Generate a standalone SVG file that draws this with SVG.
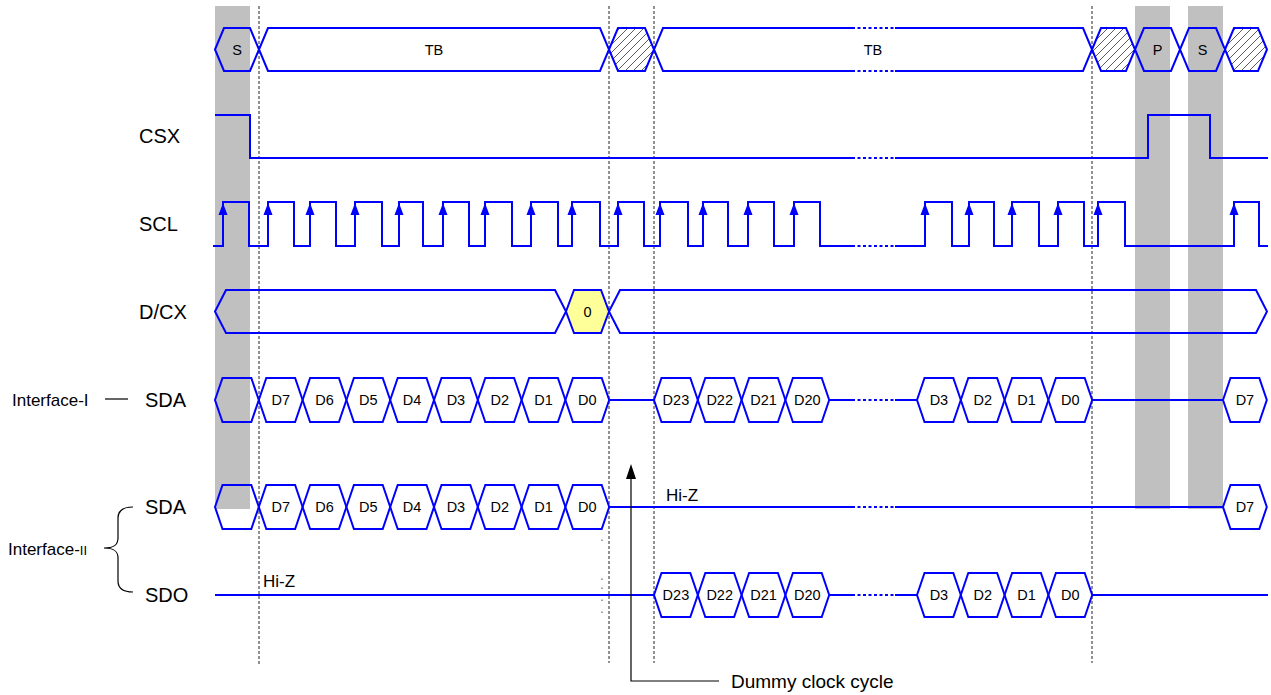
<svg xmlns="http://www.w3.org/2000/svg" xmlns:xlink="http://www.w3.org/1999/xlink" width="1271" height="695" viewBox="0 0 1271 695">
<style>
.bar{fill:#C0C0C0}
.sig{fill:none;stroke:#0000FF;stroke-width:2;stroke-linejoin:miter}
.dot{fill:none;stroke:#0000FF;stroke-width:2;stroke-dasharray:3 2.5}
.hx{fill:none;stroke:#0000FF;stroke-width:2}
.ht{fill:url(#hatch);stroke:#0000FF;stroke-width:2}
.yl{fill:#FFFF99;stroke:#0000FF;stroke-width:2}
.grid{stroke:#222;stroke-width:1;stroke-dasharray:3 2}
.t{font-family:"Liberation Sans",Arial,sans-serif;fill:#000}
.lab{font-size:20px}
.hl{font-size:14.5px;text-anchor:middle;dominant-baseline:central}
.sm{font-size:17px}
.con{fill:none;stroke:#000;stroke-width:1.2}
</style>
<defs>
<pattern id="hatch" patternUnits="userSpaceOnUse" width="8" height="8">
<rect width="8" height="8" fill="#FFFFFF"/>
<path d="M-1,1 L1,-1 M0,8 L8,0 M7,9 L9,7" stroke="#333" stroke-width="0.8"/>
</pattern>
<path id="hex" d="M0,0 L7.5,-22 L36.3,-22 L43.8,0 L36.3,22 L7.5,22 Z" class="hx"/>
<path id="arr" d="M0,0 L-4.5,12 L4.5,12 Z" fill="#0000FF"/>
</defs>
<rect width="1271" height="695" fill="#FFFFFF"/>

<g id="gray-bars">
<rect class="bar" x="215" y="6" width="35" height="503"/>
<rect class="bar" x="1135" y="6" width="35" height="503"/>
<rect class="bar" x="1188" y="6" width="35" height="503"/>
</g>

<g id="grid-lines">
<line class="grid" x1="259" y1="6" x2="259" y2="665"/>
<line class="grid" x1="609" y1="6" x2="609" y2="663"/>
<line class="grid" x1="654" y1="6" x2="654" y2="663"/>
<line class="grid" x1="1092" y1="6" x2="1092" y2="663"/>
<g fill="#444">
<rect x="601.5" y="539.5" width="1" height="1.5"/>
<rect x="601.5" y="578.5" width="1" height="1.5"/>
<rect x="601.5" y="587.5" width="1" height="1.5"/>
<rect x="601.5" y="599.5" width="1" height="1.5"/>
<rect x="601.5" y="611.5" width="1" height="1.5"/>
</g>
</g>

<g id="bus-top">
<path class="hx" d="M215,49.5 L224,28 L250,28 L259,49.5 L250,71 L224,71 Z"/>
<path class="hx" d="M259,49.5 L268,28 L600,28 L609,49.5 L600,71 L268,71 Z"/>
<path class="ht" d="M609,49.5 L618,28 L645,28 L654,49.5 L645,71 L618,71 Z"/>
<path class="sig" d="M852,28 L663,28 L654,49.5 L663,71 L852,71 M895,28 L1083,28 L1092,49.5 L1083,71 L895,71"/>
<path class="dot" d="M852,28 H895 M852,71 H895"/>
<path class="ht" d="M1092,49.5 L1101,28 L1126,28 L1135,49.5 L1126,71 L1101,71 Z"/>
<path class="hx" d="M1135,49.5 L1144,28 L1171,28 L1180,49.5 L1171,71 L1144,71 Z"/>
<path class="hx" d="M1180,49.5 L1189,28 L1216,28 L1225,49.5 L1216,71 L1189,71 Z"/>
<path class="ht" d="M1225,49.5 L1234,28 L1258,28 L1267,49.5 L1258,71 L1234,71 Z"/>
<text class="t hl" x="237" y="49.5">S</text>
<text class="t hl" x="434" y="49.5">TB</text>
<text class="t hl" x="873" y="49.5">TB</text>
<text class="t hl" x="1157.5" y="49.5">P</text>
<text class="t hl" x="1202.5" y="49.5">S</text>
</g>

<g id="csx">
<text class="t lab" x="139" y="143">CSX</text>
<path class="sig" d="M215,115 H250 V158 H852 M895,158 H1148 V115 H1210 V158 H1268"/>
<path class="dot" d="M852,158 H895"/>
</g>

<g id="scl">
<text class="t lab" x="139" y="231">SCL</text>
<path class="sig" d="M213,246 H223 V202 H249 V246 H268 V202 H294 V246 H310 V202 H336 V246 H355 V202 H382 V246 H399 V202 H423 V246 H443 V202 H469 V246 H485 V202 H512 V246 H531 V202 H558 V246 H572 V202 H600 V246 H618 V202 H644 V246 H660 V202 H688 V246 H703 V202 H728 V246 H748 V202 H774 V246 H794 V202 H820 V246 H852 M895,246 H925 V202 H952 V246 H969 V202 H994 V246 H1012 V202 H1039 V246 H1058 V202 H1084 V246 H1098 V202 H1125 V246 H1234 V202 H1259 V246 H1268"/>
<path class="dot" d="M852,246 H895"/>
<use xlink:href="#arr" x="223" y="203"/>
<use xlink:href="#arr" x="268" y="203"/>
<use xlink:href="#arr" x="310" y="203"/>
<use xlink:href="#arr" x="355" y="203"/>
<use xlink:href="#arr" x="399" y="203"/>
<use xlink:href="#arr" x="443" y="203"/>
<use xlink:href="#arr" x="485" y="203"/>
<use xlink:href="#arr" x="531" y="203"/>
<use xlink:href="#arr" x="572" y="203"/>
<use xlink:href="#arr" x="618" y="203"/>
<use xlink:href="#arr" x="660" y="203"/>
<use xlink:href="#arr" x="703" y="203"/>
<use xlink:href="#arr" x="748" y="203"/>
<use xlink:href="#arr" x="794" y="203"/>
<use xlink:href="#arr" x="925" y="203"/>
<use xlink:href="#arr" x="969" y="203"/>
<use xlink:href="#arr" x="1012" y="203"/>
<use xlink:href="#arr" x="1058" y="203"/>
<use xlink:href="#arr" x="1098" y="203"/>
<use xlink:href="#arr" x="1234" y="203"/>
</g>

<g id="dcx">
<text class="t lab" x="139" y="318.5">D/CX</text>
<path class="hx" d="M215,311.5 L226,290 L555,290 L566,311.5 L555,333 L226,333 Z"/>
<path class="yl" d="M566,311.5 L574,290 L601,290 L609,311.5 L601,333 L574,333 Z"/>
<path class="hx" d="M609,311.5 L620,290 L1256,290 L1267,311.5 L1256,333 L620,333 Z"/>
<text class="t hl" x="587.5" y="311.5">0</text>
</g>

<g id="sda-1">
<text class="t sm" x="12" y="406">Interface-I</text>
<text class="t lab" x="145" y="407">SDA</text>
<use xlink:href="#hex" x="215" y="400"/>
<use xlink:href="#hex" x="258.8" y="400"/>
<use xlink:href="#hex" x="302.6" y="400"/>
<use xlink:href="#hex" x="346.4" y="400"/>
<use xlink:href="#hex" x="390.2" y="400"/>
<use xlink:href="#hex" x="434" y="400"/>
<use xlink:href="#hex" x="477.8" y="400"/>
<use xlink:href="#hex" x="521.6" y="400"/>
<use xlink:href="#hex" x="565.4" y="400"/>
<use xlink:href="#hex" x="654" y="400"/>
<use xlink:href="#hex" x="697.8" y="400"/>
<use xlink:href="#hex" x="741.6" y="400"/>
<use xlink:href="#hex" x="785.4" y="400"/>
<use xlink:href="#hex" x="917" y="400"/>
<use xlink:href="#hex" x="960.8" y="400"/>
<use xlink:href="#hex" x="1004.6" y="400"/>
<use xlink:href="#hex" x="1048.4" y="400"/>
<use xlink:href="#hex" x="1223" y="400"/>
<path class="sig" d="M609.2,400 H654 M829.2,400 H852 M895,400 H917 M1092.2,400 H1223"/>
<path class="dot" d="M852,400 H895"/>
<g class="t">
<text class="hl" x="280.7" y="400">D7</text>
<text class="hl" x="324.5" y="400">D6</text>
<text class="hl" x="368.3" y="400">D5</text>
<text class="hl" x="412.1" y="400">D4</text>
<text class="hl" x="455.9" y="400">D3</text>
<text class="hl" x="499.7" y="400">D2</text>
<text class="hl" x="543.5" y="400">D1</text>
<text class="hl" x="587.3" y="400">D0</text>
<text class="hl" x="675.9" y="400">D23</text>
<text class="hl" x="719.7" y="400">D22</text>
<text class="hl" x="763.5" y="400">D21</text>
<text class="hl" x="807.3" y="400">D20</text>
<text class="hl" x="938.9" y="400">D3</text>
<text class="hl" x="982.7" y="400">D2</text>
<text class="hl" x="1026.5" y="400">D1</text>
<text class="hl" x="1070.3" y="400">D0</text>
<text class="hl" x="1244.9" y="400">D7</text>
</g>
</g>

<g id="sda-2">
<text class="t lab" x="145" y="514">SDA</text>
<use xlink:href="#hex" x="215" y="507"/>
<use xlink:href="#hex" x="258.8" y="507"/>
<use xlink:href="#hex" x="302.6" y="507"/>
<use xlink:href="#hex" x="346.4" y="507"/>
<use xlink:href="#hex" x="390.2" y="507"/>
<use xlink:href="#hex" x="434" y="507"/>
<use xlink:href="#hex" x="477.8" y="507"/>
<use xlink:href="#hex" x="521.6" y="507"/>
<use xlink:href="#hex" x="565.4" y="507"/>
<use xlink:href="#hex" x="1223" y="507"/>
<path class="sig" d="M609.2,507 H852 M895,507 H1223"/>
<path class="dot" d="M852,507 H895"/>
<text class="t sm" x="666" y="501">Hi-Z</text>
<g class="t">
<text class="hl" x="280.7" y="507">D7</text>
<text class="hl" x="324.5" y="507">D6</text>
<text class="hl" x="368.3" y="507">D5</text>
<text class="hl" x="412.1" y="507">D4</text>
<text class="hl" x="455.9" y="507">D3</text>
<text class="hl" x="499.7" y="507">D2</text>
<text class="hl" x="543.5" y="507">D1</text>
<text class="hl" x="587.3" y="507">D0</text>
<text class="hl" x="1244.9" y="507">D7</text>
</g>
</g>

<g id="sdo">
<text class="t lab" x="145" y="602">SDO</text>
<path class="sig" d="M215,595 H654 M829.2,595 H852 M895,595 H917 M1092.2,595 H1268"/>
<path class="dot" d="M852,595 H895"/>
<use xlink:href="#hex" x="654" y="595"/>
<use xlink:href="#hex" x="697.8" y="595"/>
<use xlink:href="#hex" x="741.6" y="595"/>
<use xlink:href="#hex" x="785.4" y="595"/>
<use xlink:href="#hex" x="917" y="595"/>
<use xlink:href="#hex" x="960.8" y="595"/>
<use xlink:href="#hex" x="1004.6" y="595"/>
<use xlink:href="#hex" x="1048.4" y="595"/>
<text class="t sm" x="263" y="587">Hi-Z</text>
<g class="t">
<text class="hl" x="675.9" y="595">D23</text>
<text class="hl" x="719.7" y="595">D22</text>
<text class="hl" x="763.5" y="595">D21</text>
<text class="hl" x="807.3" y="595">D20</text>
<text class="hl" x="938.9" y="595">D3</text>
<text class="hl" x="982.7" y="595">D2</text>
<text class="hl" x="1026.5" y="595">D1</text>
<text class="hl" x="1070.3" y="595">D0</text>
</g>
</g>

<g id="interface-2">
<text class="t sm" x="8" y="555">Interface-<tspan font-size="13px">II</tspan></text>
</g>

<g id="connectors">
<line class="con" x1="105" y1="399" x2="128" y2="399" stroke-width="1.8"/>
<path class="con" d="M133,507 C123,507 118,510 118,518 L118,538 C118,545 114,548 104,548 C114,548 118,551 118,558 L118,581 C118,589 123,592 133,592"/>
<path class="con" d="M631,476 V681 H719"/>
<path d="M631,464 L626,479 L636,479 Z" fill="#000"/>
</g>

<g id="dummy-label">
<text class="t" x="731" y="688" font-size="19px">Dummy clock cycle</text>
</g>
</svg>
